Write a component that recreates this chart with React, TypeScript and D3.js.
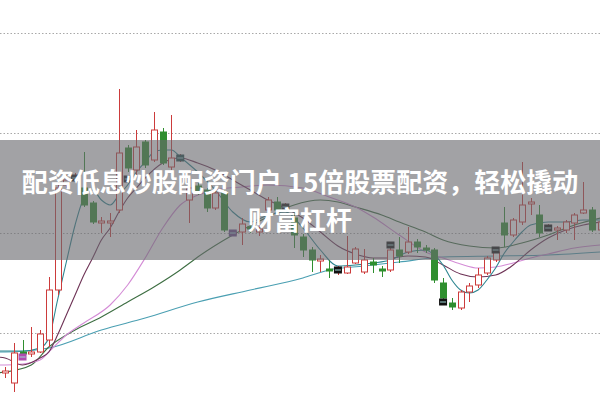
import React from "react";
import * as d3 from "d3";

const W = 600;
const H = 400;

// price levels for grid
const gridLevels = [10, 20, 30, 40];

// candles (index = position)
const opens = [6.0, 5.0, 8.1, 7.9, 8.1, 9.3, 14.3, 24.8, 25.4, 24.5, 23.0, 21.0, 21.0, 22.3, 28.5, 26.3, 29.1, 27.3, 30.1, 26.6, 27.4, 23.3, 24.7, 24.3, 22.5, 24.1, 19.9, 20.1, 20.6, 20.1, 22.3, 23.1, 22.5, 21.5, 19.6, 18.3, 17.2, 16.4, 16.2, 16.0, 17.0, 16.1, 17.1, 16.4, 16.3, 18.3, 18.1, 19.1, 18.5, 18.3, 15.0, 13.0, 12.5, 14.1, 14.8, 16.0, 17.3, 21.0, 19.8, 21.1, 22.9, 21.8, 20.4, 20.3, 20.3, 21.0, 22.0, 22.3, 20.3];
const highs = [6.6, 9.0, 9.3, 10.6, 10.3, 15.6, 25.3, 25.8, 26.0, 28.1, 23.2, 21.6, 22.0, 34.4, 28.8, 30.3, 29.3, 32.1, 30.5, 31.8, 27.9, 25.3, 25.0, 24.5, 24.5, 24.3, 20.3, 21.5, 20.9, 20.8, 23.6, 23.6, 23.0, 22.1, 19.9, 18.6, 17.8, 17.3, 16.7, 19.7, 18.6, 18.4, 17.5, 16.7, 18.9, 19.6, 20.6, 19.4, 18.8, 18.5, 15.5, 13.5, 14.3, 15.0, 16.5, 17.7, 18.5, 22.6, 21.5, 27.1, 23.5, 22.8, 20.9, 20.7, 21.3, 22.0, 25.1, 22.6, 21.3];
const lows = [5.5, 4.1, 7.5, 7.6, 8.0, 8.6, 13.8, 24.5, 25.2, 22.6, 20.9, 20.0, 19.6, 22.0, 26.1, 25.8, 26.5, 27.1, 26.8, 26.3, 27.1, 21.0, 23.8, 22.1, 22.3, 20.1, 19.7, 18.8, 20.0, 19.7, 21.9, 21.9, 22.3, 18.5, 17.6, 16.1, 16.1, 15.5, 15.8, 15.9, 16.9, 15.9, 16.0, 15.6, 16.1, 17.0, 17.9, 18.0, 18.0, 15.0, 13.3, 12.3, 12.3, 13.1, 14.5, 15.8, 17.1, 18.6, 19.6, 20.8, 21.8, 19.6, 20.2, 19.3, 20.0, 19.3, 21.9, 20.1, 19.8];
const closes = [6.2, 8.0, 7.9, 8.1, 9.9, 14.3, 24.5, 25.3, 25.6, 22.8, 21.1, 21.2, 21.2, 28.0, 26.5, 28.6, 26.8, 30.3, 27.0, 27.5, 27.6, 24.5, 24.1, 22.5, 24.0, 20.3, 20.1, 20.9, 20.4, 20.4, 23.3, 22.3, 22.7, 19.8, 18.3, 17.3, 17.4, 16.2, 16.4, 16.6, 18.4, 17.3, 16.8, 16.2, 18.3, 17.7, 19.1, 18.6, 18.3, 15.3, 13.5, 12.6, 14.1, 14.7, 15.8, 17.5, 18.1, 19.8, 21.3, 22.8, 23.1, 20.0, 20.6, 20.5, 21.1, 21.8, 22.3, 20.3, 21.1];

// special marker boxes
const markerIdx = [2, 8, 14, 20, 26, 32, 38, 44, 50, 56, 62];
const markerVal = [7.6, 25.5, 25.4, 27.5, 20.0, 22.6, 16.3, 18.8, 13.1, 18.3, 20.5];
const markerColor = ["#b04cb0", "#1c1c1c", "#1c1c1c", "#1f4a4a", "#6a4a8a", "#1c1c1c", "#111", "#111", "#111", "#111", "#111"];

// moving averages as [index, value]
const ma5: [number, number][] = [[-1, 8.2], [0, 8.2], [2, 8.2], [4, 8.5], [5, 9.5], [6, 13.3], [7, 17.1], [8, 20.8], [9, 23.5], [10, 24.3], [11, 23.3], [12, 22.8], [13, 23.8], [14, 24.8], [15, 26.1], [16, 27.1], [17, 28.1], [18, 28.3], [19, 28.3], [20, 27.6], [22, 26.1], [24, 24.3], [26, 22.1], [28, 21.1], [30, 21.8], [32, 22.1], [34, 20.5], [36, 18.3], [38, 16.7], [40, 16.8], [42, 17.0], [44, 17.3], [46, 18.1], [48, 18.3], [49, 17.8], [50, 16.8], [51, 15.3], [52, 14.3], [53, 14.0], [54, 14.3], [55, 15.3], [56, 16.5], [57, 18.0], [58, 19.1], [59, 20.1], [60, 20.8], [62, 21.1], [64, 21.1], [66, 21.3], [68, 21.3]];
const ma10: [number, number][] = [[-1, 7.6], [0, 7.5], [2, 6.8], [4, 7.5], [5, 8.1], [6, 9.8], [7, 11.8], [8, 13.8], [9, 15.8], [10, 17.5], [11, 19.3], [12, 20.5], [13, 22.1], [14, 23.5], [15, 24.5], [16, 25.5], [18, 27.0], [20, 27.5], [22, 27.0], [24, 26.3], [26, 25.3], [28, 24.3], [30, 23.3], [32, 22.5], [34, 21.5], [36, 20.1], [38, 18.7], [40, 17.9], [42, 17.5], [44, 17.5], [46, 17.7], [48, 17.6], [50, 16.8], [52, 15.9], [54, 15.6], [56, 15.8], [58, 16.8], [60, 18.3], [62, 19.5], [64, 20.3], [66, 20.8], [68, 21.1]];
const ma20: [number, number][] = [[-1, 6.8], [0, 6.8], [2, 6.9], [4, 7.3], [5, 8.1], [7, 9.8], [9, 11.0], [12, 12.8], [14, 14.8], [16, 17.5], [18, 20.5], [20, 22.8], [22, 23.8], [24, 24.3], [27, 24.6], [30, 24.8], [34, 24.5], [37, 23.6], [40, 22.6], [42, 21.6], [45, 19.8], [48, 18.1], [50, 17.5], [52, 16.9], [54, 16.5], [56, 16.6], [58, 17.0], [60, 17.5], [62, 17.9], [65, 18.5], [68, 18.8]];
const ma30: [number, number][] = [[-1, 6.0], [0, 6.1], [3, 6.8], [5, 8.6], [8, 10.3], [11, 11.6], [14, 13.1], [17, 14.6], [20, 16.3], [22, 17.6], [26, 19.8], [30, 21.6], [33, 22.8], [36, 23.3], [38, 23.1], [40, 22.6], [43, 21.8], [45, 21.1], [48, 20.1], [50, 19.3], [53, 18.7], [56, 18.5], [59, 19.0], [62, 19.8], [65, 20.8], [68, 21.5]];
const ma60: [number, number][] = [[-1, 8.1], [0, 8.1], [5, 8.5], [11, 10.3], [16, 11.5], [22, 13.1], [28, 14.3], [34, 15.5], [37, 16.3], [41, 16.7], [45, 17.1], [50, 17.6], [56, 17.7], [62, 17.8], [68, 18.1]];

const maSeries = [
  { data: ma60, color: "#4a9fb2" },
  { data: ma30, color: "#3d6e42" },
  { data: ma20, color: "#d48cd6" },
  { data: ma10, color: "#6e3356" },
  { data: ma5, color: "#2c8590" },
];

const titleLine1 = "配资低息炒股配资门户 15倍股票配资，轻松撬动";
const titleLine2 = "财富杠杆";

const UP = "#cc3b3b";
const DOWN = "#2f8f2f";

export default function App() {
  const x = d3.scaleLinear().domain([0, 67]).range([5, 592]);
  const y = d3.scaleLinear().domain([10, 40]).range([333, 33]);
  const line = d3
    .line<[number, number]>()
    .x((d) => x(d[0]))
    .y((d) => y(d[1]))
    .curve(d3.curveMonotoneX);
  const bw = 6;

  return (
    <svg
      width={W}
      height={H}
      style={{ position: "absolute", left: 0, top: 0, background: "#fff" }}
    >
      <rect x={0} y={0} width={W} height={H} fill="#fff" />
      {gridLevels.map((g) => (
        <line
          key={g}
          x1={0}
          x2={W}
          y1={Math.round(y(g)) + 0.5}
          y2={Math.round(y(g)) + 0.5}
          stroke="#a8a8a8"
          strokeWidth={1}
          strokeDasharray="1.5,2"
        />
      ))}
      {maSeries.map((s, k) => (
        <path key={k} d={line(s.data) || ""} fill="none" stroke={s.color} strokeWidth={1.1} />
      ))}
      {opens.map((o, i) => {
        const c = closes[i];
        const up = c >= o;
        const col = up ? UP : DOWN;
        const cx = Math.round(x(i)) + 0.5;
        const top = y(Math.max(o, c));
        const bot = y(Math.min(o, c));
        const h = Math.max(1, bot - top);
        return (
          <g key={i}>
            <line x1={cx} x2={cx} y1={y(highs[i])} y2={y(lows[i])} stroke={col} strokeWidth={1} />
            <rect
              x={cx - bw / 2}
              y={top}
              width={bw}
              height={h}
              fill={up ? "#fff" : col}
              stroke={col}
              strokeWidth={1}
            />
          </g>
        );
      })}
      {markerIdx.map((mi, k) => {
        const cx = x(mi);
        const cy = y(markerVal[k]);
        return (
          <g key={"m" + k}>
            <rect x={cx - 4} y={cy - 3.5} width={8} height={7} fill={markerColor[k]} />
            <line x1={cx - 3} x2={cx + 3} y1={cy} y2={cy} stroke="#9fd8d8" strokeWidth={1} />
          </g>
        );
      })}
      <rect x={0} y={140} width={W} height={120} fill="rgb(105,105,110)" opacity={0.62} />
      <text
        x={W / 2}
        y={192}
        textAnchor="middle"
        fill="#fff"
        fontFamily="'Noto Sans CJK SC', 'Noto Sans', sans-serif"
        fontWeight={700}
        fontSize={26}
      >
        {titleLine1}
      </text>
      <text
        x={W / 2}
        y={230}
        textAnchor="middle"
        fill="#fff"
        fontFamily="'Noto Sans CJK SC', 'Noto Sans', sans-serif"
        fontWeight={700}
        fontSize={26}
      >
        {titleLine2}
      </text>
    </svg>
  );
}
